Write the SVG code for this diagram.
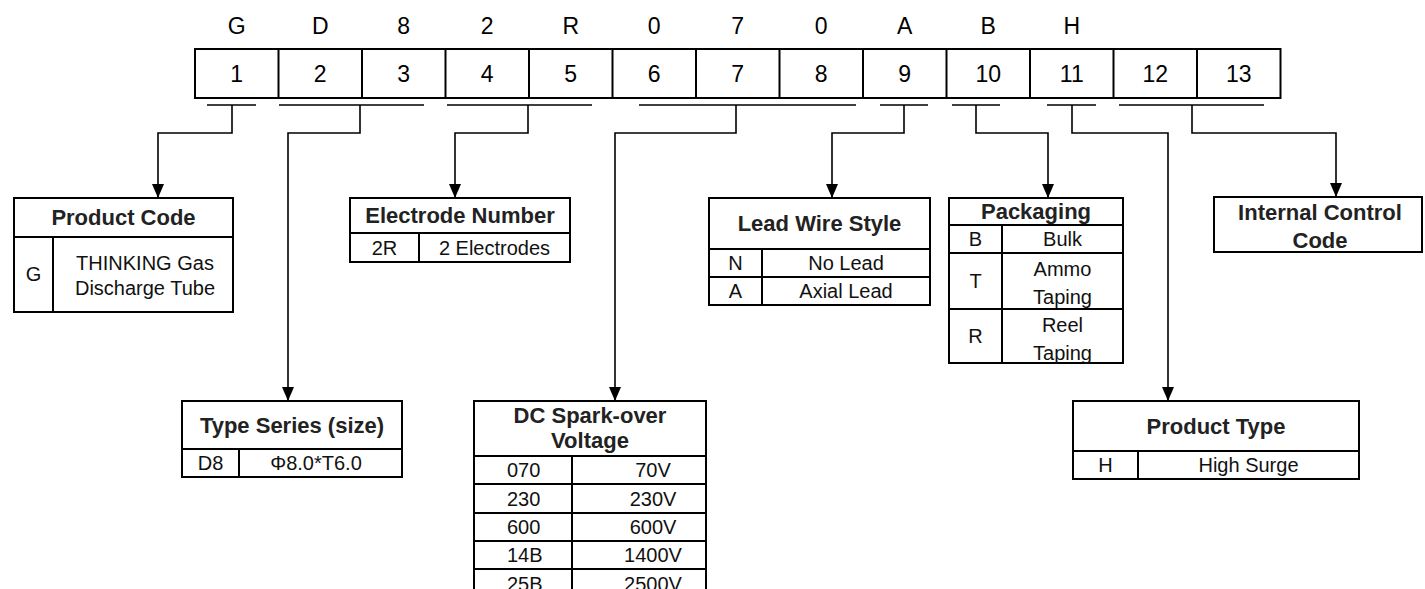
<svg xmlns="http://www.w3.org/2000/svg" width="1425" height="589" viewBox="0 0 1425 589">
<defs>
<marker id="arr" markerWidth="12" markerHeight="14" refX="6" refY="14" orient="0" markerUnits="userSpaceOnUse">
<path d="M0,0 L12,0 L6,14 Z" fill="#000"/>
</marker>
<style>
.t{font-family:"Liberation Sans",Arial,sans-serif;fill:#000;text-anchor:middle}
.top{font-size:23px}
.h{font-size:22px;font-weight:bold;fill:#222}
.b{font-size:20px;fill:#111}
.box{fill:#fff;stroke:#000;stroke-width:2}
.ln{stroke:#000;stroke-width:2;fill:none}
.cn{stroke:#000;stroke-width:1.6;fill:none}
.ar{marker-end:url(#arr)}
</style>
</defs>
<rect width="1425" height="589" fill="#fff"/>

<g id="code-row">
<rect class="box" x="195" y="49" width="1085.5" height="49"/>
<path class="ln" d="M278.5,49V98M362,49V98M445.5,49V98M529,49V98M612.5,49V98M696,49V98M779.5,49V98M863,49V98M946.5,49V98M1030,49V98M1113.5,49V98M1197,49V98"/>
<g class="t top">
<text x="236.75" y="34">G</text><text x="320.25" y="34">D</text><text x="403.75" y="34">8</text><text x="487.25" y="34">2</text><text x="570.75" y="34">R</text><text x="654.25" y="34">0</text><text x="737.75" y="34">7</text><text x="821.25" y="34">0</text><text x="904.75" y="34">A</text><text x="988.25" y="34">B</text><text x="1071.75" y="34">H</text>
<text x="236.75" y="82">1</text><text x="320.25" y="82">2</text><text x="403.75" y="82">3</text><text x="487.25" y="82">4</text><text x="570.75" y="82">5</text><text x="654.25" y="82">6</text><text x="737.75" y="82">7</text><text x="821.25" y="82">8</text><text x="904.75" y="82">9</text><text x="988.25" y="82">10</text><text x="1071.75" y="82">11</text><text x="1155.25" y="82">12</text><text x="1238.75" y="82">13</text>
</g>
</g>

<g id="connectors">
<path class="cn" d="M207,105H256M279,105H424M447,105H592M639,105H856M880,105H928M952,105H1000M1047,105H1096M1119,105H1264"/>
<path class="cn ar" d="M232,105V133H158V198"/>
<path class="cn ar" d="M360,105V133H288V401"/>
<path class="cn ar" d="M528,105V133H455V198"/>
<path class="cn ar" d="M736,105V133H615V401"/>
<path class="cn ar" d="M904,105V133H832V198"/>
<path class="cn ar" d="M976,105V133H1048V198"/>
<path class="cn ar" d="M1072,105V133H1168V401"/>
<path class="cn ar" d="M1192,105V133H1336V197"/>
</g>

<g id="product-code">
<rect class="box" x="14" y="198" width="219" height="114"/>
<path class="ln" d="M14,237H233M53,237V312"/>
<text class="t h" x="123.5" y="225">Product Code</text>
<text class="t b" x="33.5" y="281">G</text>
<text class="t b" x="145" y="270">THINKING Gas</text>
<text class="t b" x="145" y="295">Discharge Tube</text>
</g>

<g id="electrode-number">
<rect class="box" x="350" y="198" width="220" height="64"/>
<path class="ln" d="M350,233H570M419,233V262"/>
<text class="t h" x="460" y="223">Electrode Number</text>
<text class="t b" x="384.5" y="255">2R</text>
<text class="t b" x="494.5" y="255">2 Electrodes</text>
</g>

<g id="lead-wire-style">
<rect class="box" x="709" y="198" width="221" height="107"/>
<path class="ln" d="M709,249H930M709,277H930M762,249V305"/>
<text class="t h" x="819.5" y="231">Lead Wire Style</text>
<text class="t b" x="735.5" y="270">N</text>
<text class="t b" x="846" y="270">No Lead</text>
<text class="t b" x="735.5" y="298">A</text>
<text class="t b" x="846" y="298">Axial Lead</text>
</g>

<g id="packaging">
<rect class="box" x="949" y="198" width="174" height="165"/>
<path class="ln" d="M949,225H1123M949,253H1123M949,309H1123M1002,225V363"/>
<text class="t h" x="1036" y="219">Packaging</text>
<text class="t b" x="975.5" y="246">B</text>
<text class="t b" x="1062.5" y="246">Bulk</text>
<text class="t b" x="975.5" y="288">T</text>
<text class="t b" x="1062.5" y="276">Ammo</text>
<text class="t b" x="1062.5" y="304">Taping</text>
<text class="t b" x="975.5" y="343">R</text>
<text class="t b" x="1062.5" y="332">Reel</text>
<text class="t b" x="1062.5" y="360">Taping</text>
</g>

<g id="internal-control-code">
<rect class="box" x="1214" y="197" width="208" height="55"/>
<text class="t h" x="1320" y="220">Internal Control</text>
<text class="t h" x="1320" y="248">Code</text>
</g>

<g id="type-series">
<rect class="box" x="182" y="401" width="220" height="76"/>
<path class="ln" d="M182,449H402M239,449V477"/>
<text class="t h" x="292" y="433">Type Series (size)</text>
<text class="t b" x="210.5" y="470">D8</text>
<text class="t b" x="316" y="470">Φ8.0*T6.0</text>
</g>

<g id="dc-spark-over-voltage">
<rect class="box" x="474" y="401" width="232" height="196"/>
<path class="ln" d="M474,456H706M474,484H706M474,513H706M474,541H706M474,569H706M572,456V597"/>
<text class="t h" x="590" y="423">DC Spark-over</text>
<text class="t h" x="590" y="448">Voltage</text>
<g class="t b">
<text x="507" y="477" style="text-anchor:start">070</text><text x="653" y="477">70V</text>
<text x="507" y="506" style="text-anchor:start">230</text><text x="653" y="506">230V</text>
<text x="507" y="534" style="text-anchor:start">600</text><text x="653" y="534">600V</text>
<text x="507" y="562" style="text-anchor:start">14B</text><text x="653" y="562">1400V</text>
<text x="507" y="591" style="text-anchor:start">25B</text><text x="653" y="591">2500V</text>
</g>
</g>

<g id="product-type">
<rect class="box" x="1073" y="401" width="286" height="78"/>
<path class="ln" d="M1073,451H1359M1138,451V479"/>
<text class="t h" x="1216" y="434">Product Type</text>
<text class="t b" x="1105.5" y="472">H</text>
<text class="t b" x="1248.5" y="472">High Surge</text>
</g>
</svg>
